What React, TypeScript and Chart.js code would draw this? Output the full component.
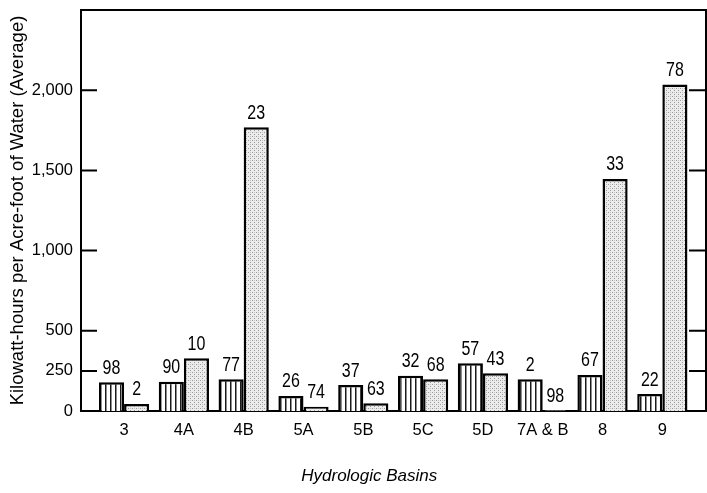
import React, { useEffect, useRef } from "react";
import { Chart, registerables } from "chart.js";

Chart.register(...registerables);

// ---- data ----
const categories = ["3", "4A", "4B", "5A", "5B", "5C", "5D", "7A & B", "8", "9"];
const hatchedValues = [179, 183, 198, 94, 162, 219, 298, 198, 225, 106];
const stippledValues = [44, 329, 1769, 27, 48, 198, 235, 5, 1447, 2036];
const hatchedLabels = ["98", "90", "77", "26", "37", "32", "57", "2", "67", "22"];
const stippledLabels = ["2", "10", "23", "74", "63", "68", "43", "98", "33", "78"];
const yTickValues = [0, 250, 500, 1000, 1500, 2000];
const frameTickValues = [250, 500, 1000, 1500, 2000];
const yMax = 2500;
const yTitle = "Kilowatt-hours per Acre-foot of Water (Average)";
const xTitle = "Hydrologic Basins";

const FONT = '"Liberation Sans", Arial, sans-serif';
const INK = "#000";

function makeHatch(): CanvasPattern | string {
  const c = document.createElement("canvas");
  c.width = 5;
  c.height = 8;
  const g = c.getContext("2d");
  if (!g) return "#fff";
  g.fillStyle = "#fff";
  g.fillRect(0, 0, 5, 8);
  g.fillStyle = "#1a1a1a";
  g.fillRect(0, 0, 1.5, 8);
  return g.createPattern(c, "repeat") || "#fff";
}

function makeStipple(): CanvasPattern | string {
  const c = document.createElement("canvas");
  c.width = 4;
  c.height = 4;
  const g = c.getContext("2d");
  if (!g) return "#ddd";
  g.fillStyle = "#ececec";
  g.fillRect(0, 0, 4, 4);
  g.fillStyle = "#9a9a9a";
  g.fillRect(0, 0, 1, 1);
  g.fillRect(2, 2, 1, 1);
  g.fillStyle = "#c4c4c4";
  g.fillRect(2, 0, 1, 1);
  return g.createPattern(c, "repeat") || "#ddd";
}

// draw text narrowed horizontally (the reference uses a condensed face)
function condensedText(ctx: CanvasRenderingContext2D, text: string, x: number, y: number, sx: number) {
  ctx.save();
  ctx.translate(x, y);
  ctx.scale(sx, 1);
  ctx.fillText(text, 0, 0);
  ctx.restore();
}

const barLabelsPlugin = {
  id: "barLabels",
  afterDatasetsDraw(chart: any) {
    const ctx = chart.ctx;
    const sets = [hatchedLabels, stippledLabels];
    ctx.save();
    ctx.font = `20px ${FONT}`;
    ctx.fillStyle = INK;
    ctx.textAlign = "center";
    ctx.textBaseline = "middle";
    sets.forEach((labels, di) => {
      const meta = chart.getDatasetMeta(di);
      meta.data.forEach((el: any, i: number) => {
        condensedText(ctx, labels[i], el.x, el.y - 14, 0.8);
      });
    });
    ctx.restore();
  },
};

const framePlugin = {
  id: "frame",
  afterDraw(chart: any) {
    const { ctx, chartArea } = chart;
    const y = chart.scales.y;
    const { left, right, top, bottom } = chartArea;
    ctx.save();
    ctx.strokeStyle = INK;
    ctx.lineWidth = 2;
    ctx.beginPath();
    ctx.moveTo(left, top);
    ctx.lineTo(right, top);
    ctx.lineTo(right, bottom);
    ctx.stroke();
    ctx.beginPath();
    frameTickValues.forEach((v) => {
      const py = y.getPixelForValue(v);
      ctx.moveTo(left, py);
      ctx.lineTo(left + 16, py);
      ctx.moveTo(right, py);
      ctx.lineTo(right - 17, py);
    });
    ctx.stroke();
    // x axis title
    const xs = chart.scales.x;
    const cx = xs.getPixelForValue((categories.length - 1) / 2 - 0.4);
    ctx.font = `italic 17px ${FONT}`;
    ctx.fillStyle = INK;
    ctx.textAlign = "center";
    ctx.textBaseline = "middle";
    ctx.fillText(xTitle, cx, bottom + 65);
    ctx.restore();
  },
};

export default function App() {
  const ref = useRef<HTMLCanvasElement | null>(null);

  useEffect(() => {
    if (!ref.current) return;
    const hatch = makeHatch();
    const stipple = makeStipple();
    const chart = new Chart(ref.current, {
      type: "bar",
      data: {
        datasets: [
          {
            label: "Percent A",
            data: hatchedValues.map((v, i) => ({ x: i, y: v })),
            backgroundColor: hatch as any,
            borderColor: INK,
            borderWidth: 2.5,
            categoryPercentage: 0.84,
            barPercentage: 1,
          },
          {
            label: "Percent B",
            data: stippledValues.map((v, i) => ({ x: i, y: v })),
            backgroundColor: stipple as any,
            borderColor: INK,
            borderWidth: 2.5,
            categoryPercentage: 0.84,
            barPercentage: 1,
          },
        ],
      },
      options: {
        responsive: false,
        animation: false,
        layout: { padding: { top: 10, right: 1, left: 0, bottom: 0 } },
        plugins: {
          legend: { display: false },
          tooltip: { enabled: false },
        },
        scales: {
          x: {
            type: "linear",
            offset: false,
            min: -0.72,
            max: 9.73,
            grid: { display: false, drawTicks: false },
            border: { display: true, color: INK, width: 2 },
            afterBuildTicks: (scale: any) => {
              scale.ticks = categories.map((_, i) => ({ value: i }));
            },
            afterFit: (scale: any) => {
              scale.height = 82;
              scale.paddingLeft = 0;
              scale.paddingRight = 0;
              scale.paddingTop = 0;
              scale.paddingBottom = 0;
            },
            ticks: {
              autoSkip: false,
              maxRotation: 0,
              padding: 10,
              color: INK,
              font: { family: FONT, size: 16.5 },
              callback: (v: any) => categories[Number(v)] ?? "",
            },
          },
          y: {
            min: 0,
            max: yMax,
            grid: { display: false, drawTicks: false },
            border: { display: true, color: INK, width: 2 },
            afterBuildTicks: (scale: any) => {
              scale.ticks = yTickValues.map((v) => ({ value: v }));
            },
            afterFit: (scale: any) => {
              scale.width = 81;
              scale.paddingLeft = 0;
              scale.paddingRight = 0;
              scale.paddingTop = 0;
              scale.paddingBottom = 0;
            },
            ticks: {
              padding: 8,
              color: INK,
              font: { family: FONT, size: 16.5 },
              callback: (v: any) => Number(v).toLocaleString("en-US"),
            },
            title: {
              display: true,
              text: yTitle,
              color: INK,
              font: { family: FONT, size: 18.5 },
              padding: { top: 7, bottom: 0 },
            },
          },
        },
      },
      plugins: [barLabelsPlugin, framePlugin],
    });
    return () => chart.destroy();
  }, []);

  return (
    <div style={{ position: "fixed", left: 0, top: 0, width: 707, height: 493, background: "#fff" }}>
      <canvas ref={ref} width={707} height={493} style={{ width: 707, height: 493, display: "block" }} />
    </div>
  );
}
